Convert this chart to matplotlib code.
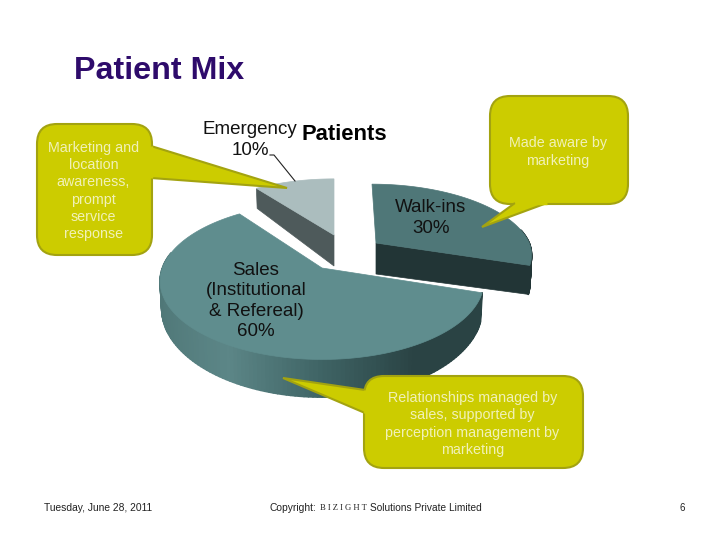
#!/usr/bin/env python3
# Patient Mix slide: exploded 3D pie with callouts
import numpy as np
import matplotlib
matplotlib.use("Agg")
import matplotlib.pyplot as plt
from matplotlib.collections import PolyCollection
from matplotlib.colors import LinearSegmentedColormap
from matplotlib.patches import FancyBboxPatch, Polygon

plt.rcParams["font.family"] = ["Liberation Sans", "DejaVu Sans"]

# -----------------------------
# Data
# -----------------------------
categories = ["Walk-ins", "Sales\n(Institutional\n& Refereal)", "Emergency"]
shares = [30, 60, 10]
notes = [
    "Made aware by\nmarketing",
    "Relationships managed by\nsales, supported by\nperception management by\nmarketing",
    "Marketing and\nlocation\nawareness,\nprompt\nservice\nresponse",
]

# -----------------------------
# Pie projection (pixels)
# -----------------------------
R, B, K, DEPTH, RIM = 158, 80, 0.169, 31, 26
# apex x, apex y, x scale, y scale, far-side skew, top colour, side colour
slice_style = [
    (376, 243, 0.97, 0.86, -4, "#4f7778", "#223536"),
    (322, 268, 1.01, 0.95, 0, "#5f8d8e", None),
    (334, 235, 0.95, 0.82, 0, "#abbdbe", "#4e5a5b"),
]
label_xy = [(431, 218), (256, 301), (250, 140)]
side_cmap = LinearSegmentedColormap.from_list(
    "side", ["#4f7777", "#5c8687", "#3f6465", "#2a4344", "#2a4344"]
)


def project(theta, style, wall=False):
    # theta runs clockwise from the far side of the pie
    ax0, ay0, sx, sy, skew = style[:5]
    X, Y = np.sin(theta), np.cos(theta)
    s = 1 / (1 + K * Y)
    px = R * X * s * sx + skew * np.clip(Y, 0, 1)
    py = ay0 - B * Y * s * sy
    if wall:
        return ax0 + px * 0.99, py + RIM * s ** 2
    return ax0 + px, py


def apex(style, drop=0.0):
    return style[0], style[1] + drop * DEPTH


fig = plt.figure(figsize=(7.28, 5.46), dpi=100)
ax = fig.add_axes([0, 0, 1, 1])
ax.set_xlim(0, 728)
ax.set_ylim(546, 0)
ax.axis("off")

edges = np.cumsum([0] + shares) / sum(shares) * 2 * np.pi

# draw far slices first
for i in [2, 0, 1]:
    style = slice_style[i]
    theta = np.linspace(edges[i], edges[i + 1], 160)
    tx, ty = project(theta, style)
    bx, by = project(theta, style, wall=True)

    # outer wall, shaded along the rim; the far side of the rim is hidden
    quads = []
    colors = []
    for j in range(len(theta) - 1):
        if np.cos(theta[j]) > 0.2:
            continue
        quads.append([(tx[j], ty[j]), (tx[j + 1], ty[j + 1]),
                      (bx[j + 1], by[j + 1]), (bx[j], by[j])])
        if style[6] is None:
            colors.append(side_cmap((np.sin(theta[j]) + 1) / 2))
        else:
            colors.append(style[6])
    ax.add_collection(PolyCollection(quads, facecolors=colors, edgecolors=colors,
                                     linewidths=1.2, zorder=2 + i))

    # cut face toward the viewer: the end nearer the front
    if style[6] is not None:
        e = -1 if np.cos(theta[-1]) < np.cos(theta[0]) else 0
        ax.add_patch(Polygon(
            [apex(style), (tx[e], ty[e]), (bx[e], by[e]), apex(style, 1.0)],
            closed=True, fc=style[6], ec=style[6], lw=0.5, zorder=2 + i))

    # top surface
    top = [apex(style)] + list(zip(tx, ty))
    ax.add_patch(Polygon(top, closed=True, fc=style[5], ec=style[5], lw=0.5,
                         zorder=3 + i))

# -----------------------------
# Labels
# -----------------------------
for name, share, (lx, ly) in zip(categories, shares, label_xy):
    ax.text(lx, ly, f"{name}\n{share}%", ha="center", va="center", color="#111111",
            fontsize=13.5, linespacing=1.24, zorder=10)
ax.plot([270, 274, 295], [155, 155, 181], color="#222222", lw=0.8, zorder=10)
ax.text(344, 134, "Patients", ha="center", va="center", color="black",
        fontsize=15.8, fontweight="bold", zorder=10)

# -----------------------------
# Callouts
# -----------------------------
note_boxes = [(490, 96, 138, 108), (364, 376, 219, 92), (37, 124, 115, 131)]
note_tails = [
    [(515, 203), (482, 227), (547, 203)],
    [(365, 413), (283, 378), (365, 390)],
    [(151, 146), (287, 188), (151, 178)],
]
note_text_y = [152, 424, 191]
for note, (bx0, by0, bw, bh), tail, ty0 in zip(notes, note_boxes, note_tails, note_text_y):
    rad = 20
    ax.add_patch(FancyBboxPatch((bx0 + rad, by0 + rad), bw - 2 * rad, bh - 2 * rad,
                                boxstyle=f"round,pad={rad},rounding_size={rad}",
                                fc="#cccc00", ec="#a3a310", lw=1.5, zorder=11))
    ax.add_patch(Polygon(tail, closed=False, fc="#cccc00", ec="#a3a310", lw=1.5, zorder=12))
    # hide the box border under the tail base
    ax.plot([tail[0][0], tail[2][0]], [tail[0][1], tail[2][1]], color="#cccc00", lw=2.5,
            solid_capstyle="butt", zorder=12)
    cx = bx0 + bw / 2 - 1
    ax.text(cx, ty0, note, ha="center", va="center", color="#f1f1b8", fontsize=10.3,
            linespacing=1.28, zorder=13)

# -----------------------------
# Title and footer
# -----------------------------
ax.text(74, 71, "Patient Mix", ha="left", va="center", color="#2e0b6b",
        fontsize=23.2, fontweight="bold")
ax.text(44, 508, "Tuesday, June 28, 2011", ha="left", va="center", fontsize=7.4, color="#222222")
ax.text(270, 508, "Copyright:", ha="left", va="center", fontsize=7.4, color="#222222")
ax.text(320, 508, "B I Z I G H T", ha="left", va="center", fontsize=6.2, color="#222222",
        family="Liberation Serif")
ax.text(370, 508, "Solutions Private Limited", ha="left", va="center", fontsize=7.25, color="#222222")
ax.text(680, 508, "6", ha="left", va="center", fontsize=7.0, color="#222222")

fig.savefig("out.png", dpi=100)
